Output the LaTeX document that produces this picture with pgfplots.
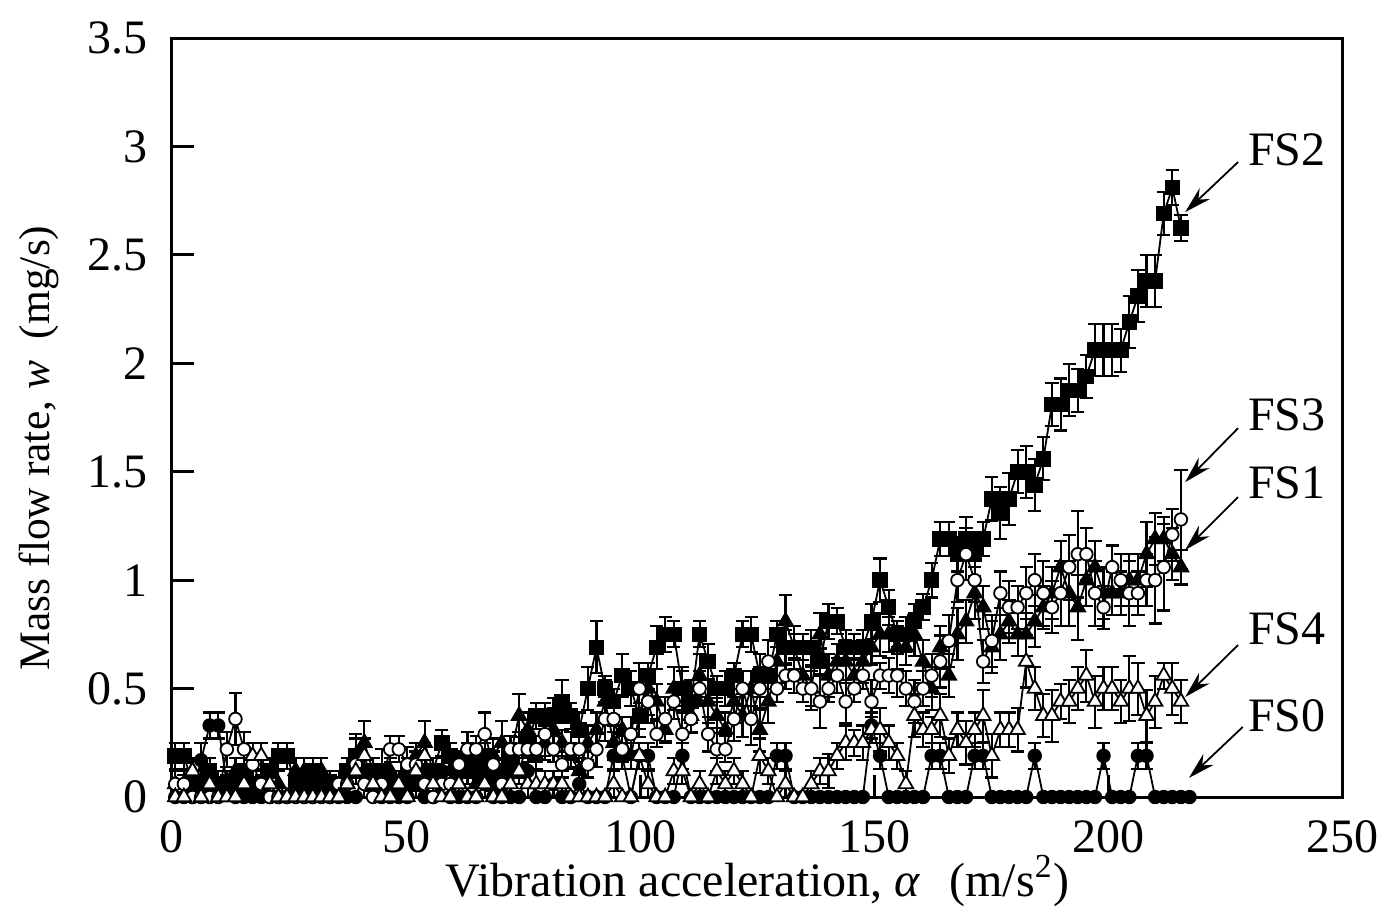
\documentclass[border=0pt]{standalone}
\usepackage{pgfplots}
\pgfplotsset{compat=1.18}
\usepackage{pgfplotstable}
\usepackage{fontspec}
\setmainfont{Liberation Serif}
\usetikzlibrary{arrows.meta}

\pgfplotstableread{
x a0 e0 a1 e1 a2 e2 a3 e3 a4 e4
0.70 0 0 0.06 0.06 0.19 0.06 0.06 0.06 0 0
2.54 0 0 0.06 0.06 0.19 0.06 0.06 0.04 0 0
4.37 0 0 0.12 0.06 0.06 0.06 0 0 0.12 0.06
6.21 0.17 0.08 0.06 0.06 0.06 0.06 0 0 0 0
8.04 0.33 0.06 0.06 0.06 0.12 0.06 0 0 0.06 0.06
9.88 0.33 0.06 0 0 0.06 0.06 0 0 0 0
11.71 0.06 0.06 0.06 0.06 0.06 0.04 0.22 0.08 0 0
13.55 0 0 0.12 0.06 0.06 0.06 0.36 0.12 0 0
15.38 0 0 0.06 0.06 0.12 0.06 0.22 0.08 0.06 0.06
17.22 0 0 0 0 0.06 0.06 0.15 0.1 0.19 0.06
19.05 0 0 0.06 0.06 0.06 0.04 0.06 0.06 0.19 0.06
20.89 0 0 0.06 0.06 0.12 0.06 0 0 0.06 0.06
22.72 0 0 0.06 0.06 0.19 0.06 0 0 0 0
24.56 0 0 0 0 0.19 0.06 0 0 0 0
26.39 0.06 0.06 0.12 0.06 0.06 0.06 0 0 0 0
28.23 0 0 0.12 0.06 0.06 0.06 0 0 0 0
30.06 0 0 0.06 0.06 0.12 0.06 0 0 0 0
31.90 0.06 0.06 0.12 0.06 0.06 0.06 0 0 0 0
33.73 0 0 0.06 0.06 0.06 0.04 0 0 0 0
35.57 0 0 0 0 0.06 0.06 0.06 0.06 0 0
37.40 0 0 0.06 0.06 0.12 0.06 0.06 0.06 0.06 0.06
39.24 0 0 0.19 0.1 0.19 0.08 0.15 0.06 0.12 0.06
41.07 0.12 0.06 0.25 0.1 0.12 0.06 0.06 0.06 0.19 0.08
42.91 0.06 0.06 0.12 0.06 0.06 0.06 0 0 0.06 0.06
44.74 0 0 0.06 0.06 0.12 0.1 0.06 0.06 0 0
46.58 0 0 0.12 0.06 0.06 0.06 0.22 0.06 0 0
48.41 0 0 0.06 0.06 0.06 0.04 0.22 0.06 0.06 0.06
50.25 0 0 0.12 0.06 0.12 0.06 0.15 0.08 0 0
52.08 0.06 0.06 0.19 0.06 0.06 0.06 0.15 0.06 0.12 0.06
53.92 0 0 0.25 0.1 0.12 0.06 0.06 0.06 0.19 0.06
55.75 0 0 0.12 0.06 0.12 0.06 0 0 0.06 0.06
57.59 0.12 0.06 0.06 0.06 0.25 0.06 0.06 0.06 0 0
59.42 0 0 0.12 0.06 0.19 0.06 0.06 0.06 0 0
61.26 0 0 0.06 0.06 0.12 0.08 0.15 0.06 0.06 0.06
63.09 0 0 0.12 0.06 0.19 0.06 0.22 0.08 0 0
64.93 0 0 0.06 0.06 0.12 0.06 0.22 0.06 0 0
66.76 0.06 0.06 0.12 0.06 0.19 0.06 0.29 0.1 0.06 0.06
68.60 0 0 0.19 0.08 0.06 0.06 0.15 0.06 0 0
70.43 0 0 0.25 0.1 0.12 0.06 0.06 0.06 0 0
72.27 0 0 0.19 0.06 0.19 0.06 0.22 0.06 0.06 0.06
74.10 0 0 0.375 0.1 0.12 0.06 0.22 0.08 0.12 0.06
75.94 0.12 0.06 0.31 0.08 0.25 0.06 0.22 0.06 0.06 0.06
77.77 0 0 0.19 0.06 0.375 0.06 0.22 0.06 0.06 0.06
79.61 0 0 0.25 0.08 0.375 0.06 0.29 0.1 0.06 0.06
81.44 0.06 0.06 0.31 0.1 0.375 0.08 0.22 0.06 0.06 0.06
83.28 0 0 0.25 0.06 0.44 0.1 0.15 0.06 0.06 0.06
85.11 0 0 0.19 0.06 0.375 0.06 0.22 0.08 0 0
86.95 0.06 0.06 0.12 0.06 0.31 0.08 0.22 0.06 0 0
88.78 0 0 0.25 0.08 0.5 0.1 0.15 0.06 0 0
90.62 0 0 0.31 0.08 0.69 0.12 0.22 0.08 0 0
92.45 0 0 0.44 0.1 0.5 0.06 0.36 0.1 0 0
94.29 0.19 0.06 0.25 0.08 0.44 0.06 0.36 0.06 0.06 0.06
96.12 0.19 0.06 0.31 0.06 0.56 0.1 0.22 0.06 0 0
97.96 0 0 0.19 0.06 0.5 0.08 0.29 0.08 0 0
99.79 0.19 0.06 0.375 0.1 0.375 0.06 0.5 0.12 0.19 0.06
101.63 0.19 0.06 0.5 0.12 0.56 0.06 0.44 0.1 0.06 0.06
103.46 0 0 0.44 0.08 0.69 0.1 0.29 0.06 0 0
105.30 0 0 0.31 0.06 0.75 0.08 0.36 0.1 0 0
107.13 0 0 0.5 0.1 0.75 0.06 0.44 0.08 0.12 0.06
108.97 0.19 0.06 0.5 0.08 0.5 0.1 0.29 0.1 0.12 0.06
110.80 0 0 0.375 0.08 0.44 0.1 0.36 0.06 0 0
112.64 0 0 0.56 0.1 0.75 0.06 0.5 0.08 0.06 0.06
114.47 0 0 0.44 0.1 0.625 0.08 0.29 0.08 0 0
116.31 0 0 0.375 0.08 0.5 0.06 0.22 0.1 0.12 0.06
118.14 0 0 0.31 0.08 0.5 0.08 0.22 0.06 0.06 0.06
119.98 0 0 0.44 0.1 0.56 0.06 0.36 0.1 0.12 0.06
121.81 0 0 0.375 0.1 0.75 0.06 0.5 0.08 0.06 0.06
123.65 0 0 0.5 0.08 0.75 0.08 0.36 0.12 0 0
125.48 0 0 0.31 0.1 0.56 0.1 0.5 0.1 0.19 0.08
127.32 0 0 0.44 0.1 0.56 0.06 0.625 0.1 0.12 0.06
129.15 0.19 0.06 0.625 0.1 0.75 0.06 0.5 0.06 0 0
130.99 0.19 0.06 0.81 0.12 0.69 0.08 0.56 0.06 0.06 0.06
132.82 0 0 0.69 0.1 0.69 0.06 0.56 0.08 0 0
134.66 0 0 0.56 0.12 0.69 0.06 0.5 0.06 0 0
136.49 0 0 0.5 0.1 0.69 0.08 0.5 0.08 0.06 0.06
138.33 0 0 0.75 0.1 0.625 0.06 0.44 0.12 0.12 0.06
140.16 0 0 0.56 0.1 0.81 0.08 0.5 0.06 0.12 0.08
142.00 0 0 0.625 0.08 0.81 0.06 0.56 0.08 0.19 0.06
143.83 0 0 0.625 0.1 0.69 0.08 0.44 0.1 0.25 0.08
145.67 0 0 0.56 0.08 0.69 0.06 0.5 0.06 0.25 0.06
147.50 0 0 0.625 0.1 0.69 0.08 0.56 0.06 0.25 0.08
149.34 0.33 0.06 0.69 0.08 0.81 0.08 0.44 0.1 0.31 0.06
151.17 0.19 0.06 0.75 0.1 1.0 0.1 0.56 0.06 0.31 0.1
153.01 0 0 0.75 0.08 0.875 0.08 0.56 0.08 0.25 0.08
154.84 0 0 0.69 0.1 0.75 0.06 0.56 0.1 0.19 0.06
156.68 0 0 0.69 0.08 0.75 0.08 0.5 0.08 0.06 0.06
158.51 0 0 0.75 0.1 0.81 0.08 0.44 0.1 0.375 0.1
160.35 0 0 0.625 0.1 0.875 0.06 0.5 0.08 0.31 0.08
162.18 0.19 0.06 0.5 0.1 1.0 0.08 0.56 0.1 0.31 0.06
164.02 0.19 0.06 0.69 0.1 1.19 0.08 0.625 0.12 0.375 0.1
165.85 0 0 0.56 0.1 1.19 0.08 0.72 0.12 0.19 0.08
167.69 0 0 0.75 0.12 1.12 0.08 1.0 0.1 0.31 0.08
169.52 0 0 0.81 0.1 1.19 0.1 1.12 0.12 0.25 0.1
171.36 0.19 0.06 0.94 0.12 1.12 0.1 1.0 0.1 0.31 0.08
173.19 0.19 0.06 0.875 0.1 1.19 0.08 0.625 0.1 0.375 0.12
175.03 0 0 0.69 0.12 1.375 0.1 0.72 0.12 0.19 0.1
176.86 0 0 0.75 0.12 1.31 0.12 0.94 0.1 0.31 0.08
178.70 0 0 0.81 0.1 1.375 0.12 0.875 0.12 0.31 0.08
180.53 0 0 0.75 0.1 1.5 0.1 0.875 0.1 0.31 0.1
182.37 0 0 0.75 0.1 1.5 0.12 0.94 0.12 0.625 0.12
184.20 0.19 0.06 0.81 0.12 1.44 0.12 1.0 0.12 0.5 0.1
186.04 0 0 0.875 0.1 1.56 0.1 0.94 0.15 0.375 0.1
187.87 0 0 0.94 0.12 1.81 0.1 0.875 0.12 0.375 0.12
189.71 0 0 1.06 0.12 1.81 0.12 0.94 0.15 0.44 0.08
191.54 0 0 0.94 0.15 1.875 0.12 1.06 0.15 0.44 0.1
193.38 0 0 0.875 0.15 1.875 0.1 1.12 0.2 0.5 0.1
195.21 0 0 1.0 0.12 1.94 0.1 1.12 0.12 0.56 0.12
197.05 0 0 1.06 0.12 2.06 0.12 0.94 0.15 0.44 0.12
198.88 0.19 0.06 0.94 0.12 2.06 0.12 0.875 0.1 0.5 0.1
200.72 0 0 0.94 0.1 2.06 0.12 1.06 0.1 0.5 0.1
202.55 0 0 0.94 0.1 2.06 0.1 1.0 0.12 0.44 0.1
204.39 0 0 1.0 0.12 2.19 0.12 0.94 0.15 0.5 0.15
206.22 0.19 0.06 1.0 0.12 2.31 0.12 0.94 0.1 0.5 0.12
208.06 0.19 0.06 1.12 0.15 2.38 0.12 1.0 0.12 0.375 0.12
209.89 0 0 1.19 0.12 2.38 0.12 1.0 0.2 0.44 0.12
211.73 0 0 1.19 0.1 2.69 0.1 1.06 0.2 0.56 0.06
213.56 0 0 1.12 0.12 2.81 0.08 1.21 0.12 0.5 0.12
215.40 0 0 1.06 0.08 2.625 0.06 1.28 0.23 0.44 0.1
217.23 0 0 nan nan nan nan nan nan nan nan
}\datatable

\pgfplotsset{
  errstyle/.style={
    error bars/.cd, y dir=both, y explicit,
    error bar style={line width=0.7pt, black, solid},
    error mark options={line width=0.7pt, black, mark size=2.2pt, rotate=90}
  }
}

\begin{document}
\begin{tikzpicture}
\useasboundingbox (-57.33pt,-40.33pt) rectangle (403pt,265.67pt);
\begin{axis}[
  at={(0,0)}, anchor=south west,
  scale only axis, width=390.33pt, height=253pt,
  xmin=0, xmax=250, ymin=0, ymax=3.5,
  xtick={0,50,100,150,200,250},
  ytick={0,0.5,1,1.5,2,2.5,3,3.5},
  yticklabels={0,0.5,1,1.5,2,2.5,3,3.5},
  xticklabels={0,50,100,150,200,250},
  xtick pos=bottom, ytick pos=left,
  tick align=inside, major tick length=7.3pt,
  axis line style={line width=1pt, black},
  tick style={line width=1pt, black},
  /pgf/number format/assume math mode=true,
  tick label style={font=\fontsize{16}{19}\selectfont, inner sep=0pt},
  xticklabel style={anchor=north, yshift=-7.7pt},
  yticklabel style={anchor=east, xshift=-8pt},
  xlabel={Vibration acceleration, \textit{α}\hspace{0.6em}(m/s\textsuperscript{2})},
  ylabel={Mass flow rate, \textit{w}\hspace{0.5em}(mg/s)},
  xlabel style={font=\fontsize{16}{19}\selectfont, at={(axis description cs:0.5,0)}, anchor=base, yshift=-33pt},
  ylabel style={font=\fontsize{14.5}{17}\selectfont, at={(axis description cs:-0.1043,0.46)}, anchor=base, rotate=0},
  clip=false,
]
\addplot[black, line width=0.6pt, mark=*, mark size=2.1pt, mark options={fill=black, line width=0.6pt}, errstyle]
  table[x=x, y=a0, y error=e0] {\datatable};
\addplot[black, line width=0.6pt, mark=triangle*, mark size=2.8pt, mark options={fill=black, line width=0.6pt}, errstyle]
  table[x=x, y=a1, y error=e1] {\datatable};
\addplot[black, line width=0.6pt, mark=square*, mark size=2.3pt, mark options={fill=black, line width=0.6pt}, errstyle]
  table[x=x, y=a2, y error=e2] {\datatable};
\addplot[black, line width=0.6pt, mark=*, mark size=2.1pt, mark options={fill=white, line width=0.6pt}, errstyle]
  table[x=x, y=a3, y error=e3] {\datatable};
\addplot[black, line width=0.6pt, mark=triangle*, mark size=2.8pt, mark options={fill=white, line width=0.6pt}, errstyle]
  table[x=x, y=a4, y error=e4] {\datatable};

\node[font=\fontsize{16}{19}\selectfont] at (axis cs:238,2.983) {FS2};
\node[font=\fontsize{16}{19}\selectfont] at (axis cs:238,1.761) {FS3};
\node[font=\fontsize{16}{19}\selectfont] at (axis cs:238,1.448) {FS1};
\node[font=\fontsize{16}{19}\selectfont] at (axis cs:238,0.775) {FS4};
\node[font=\fontsize{16}{19}\selectfont] at (axis cs:238,0.375) {FS0};
\draw[-{Stealth[length=9pt,width=5pt]}, line width=0.6pt] (axis cs:227.6,2.928) -- (axis cs:216.3,2.697);
\draw[-{Stealth[length=9pt,width=5pt]}, line width=0.6pt] (axis cs:227.6,1.701) -- (axis cs:216.3,1.452);
\draw[-{Stealth[length=9pt,width=5pt]}, line width=0.6pt] (axis cs:227.6,1.383) -- (axis cs:216.3,1.139);
\draw[-{Stealth[length=9pt,width=5pt]}, line width=0.6pt] (axis cs:227.6,0.701) -- (axis cs:216.3,0.461);
\draw[-{Stealth[length=9pt,width=5pt]}, line width=0.6pt] (axis cs:228.6,0.323) -- (axis cs:217.1,0.088);
\end{axis}
\end{tikzpicture}
\end{document}
